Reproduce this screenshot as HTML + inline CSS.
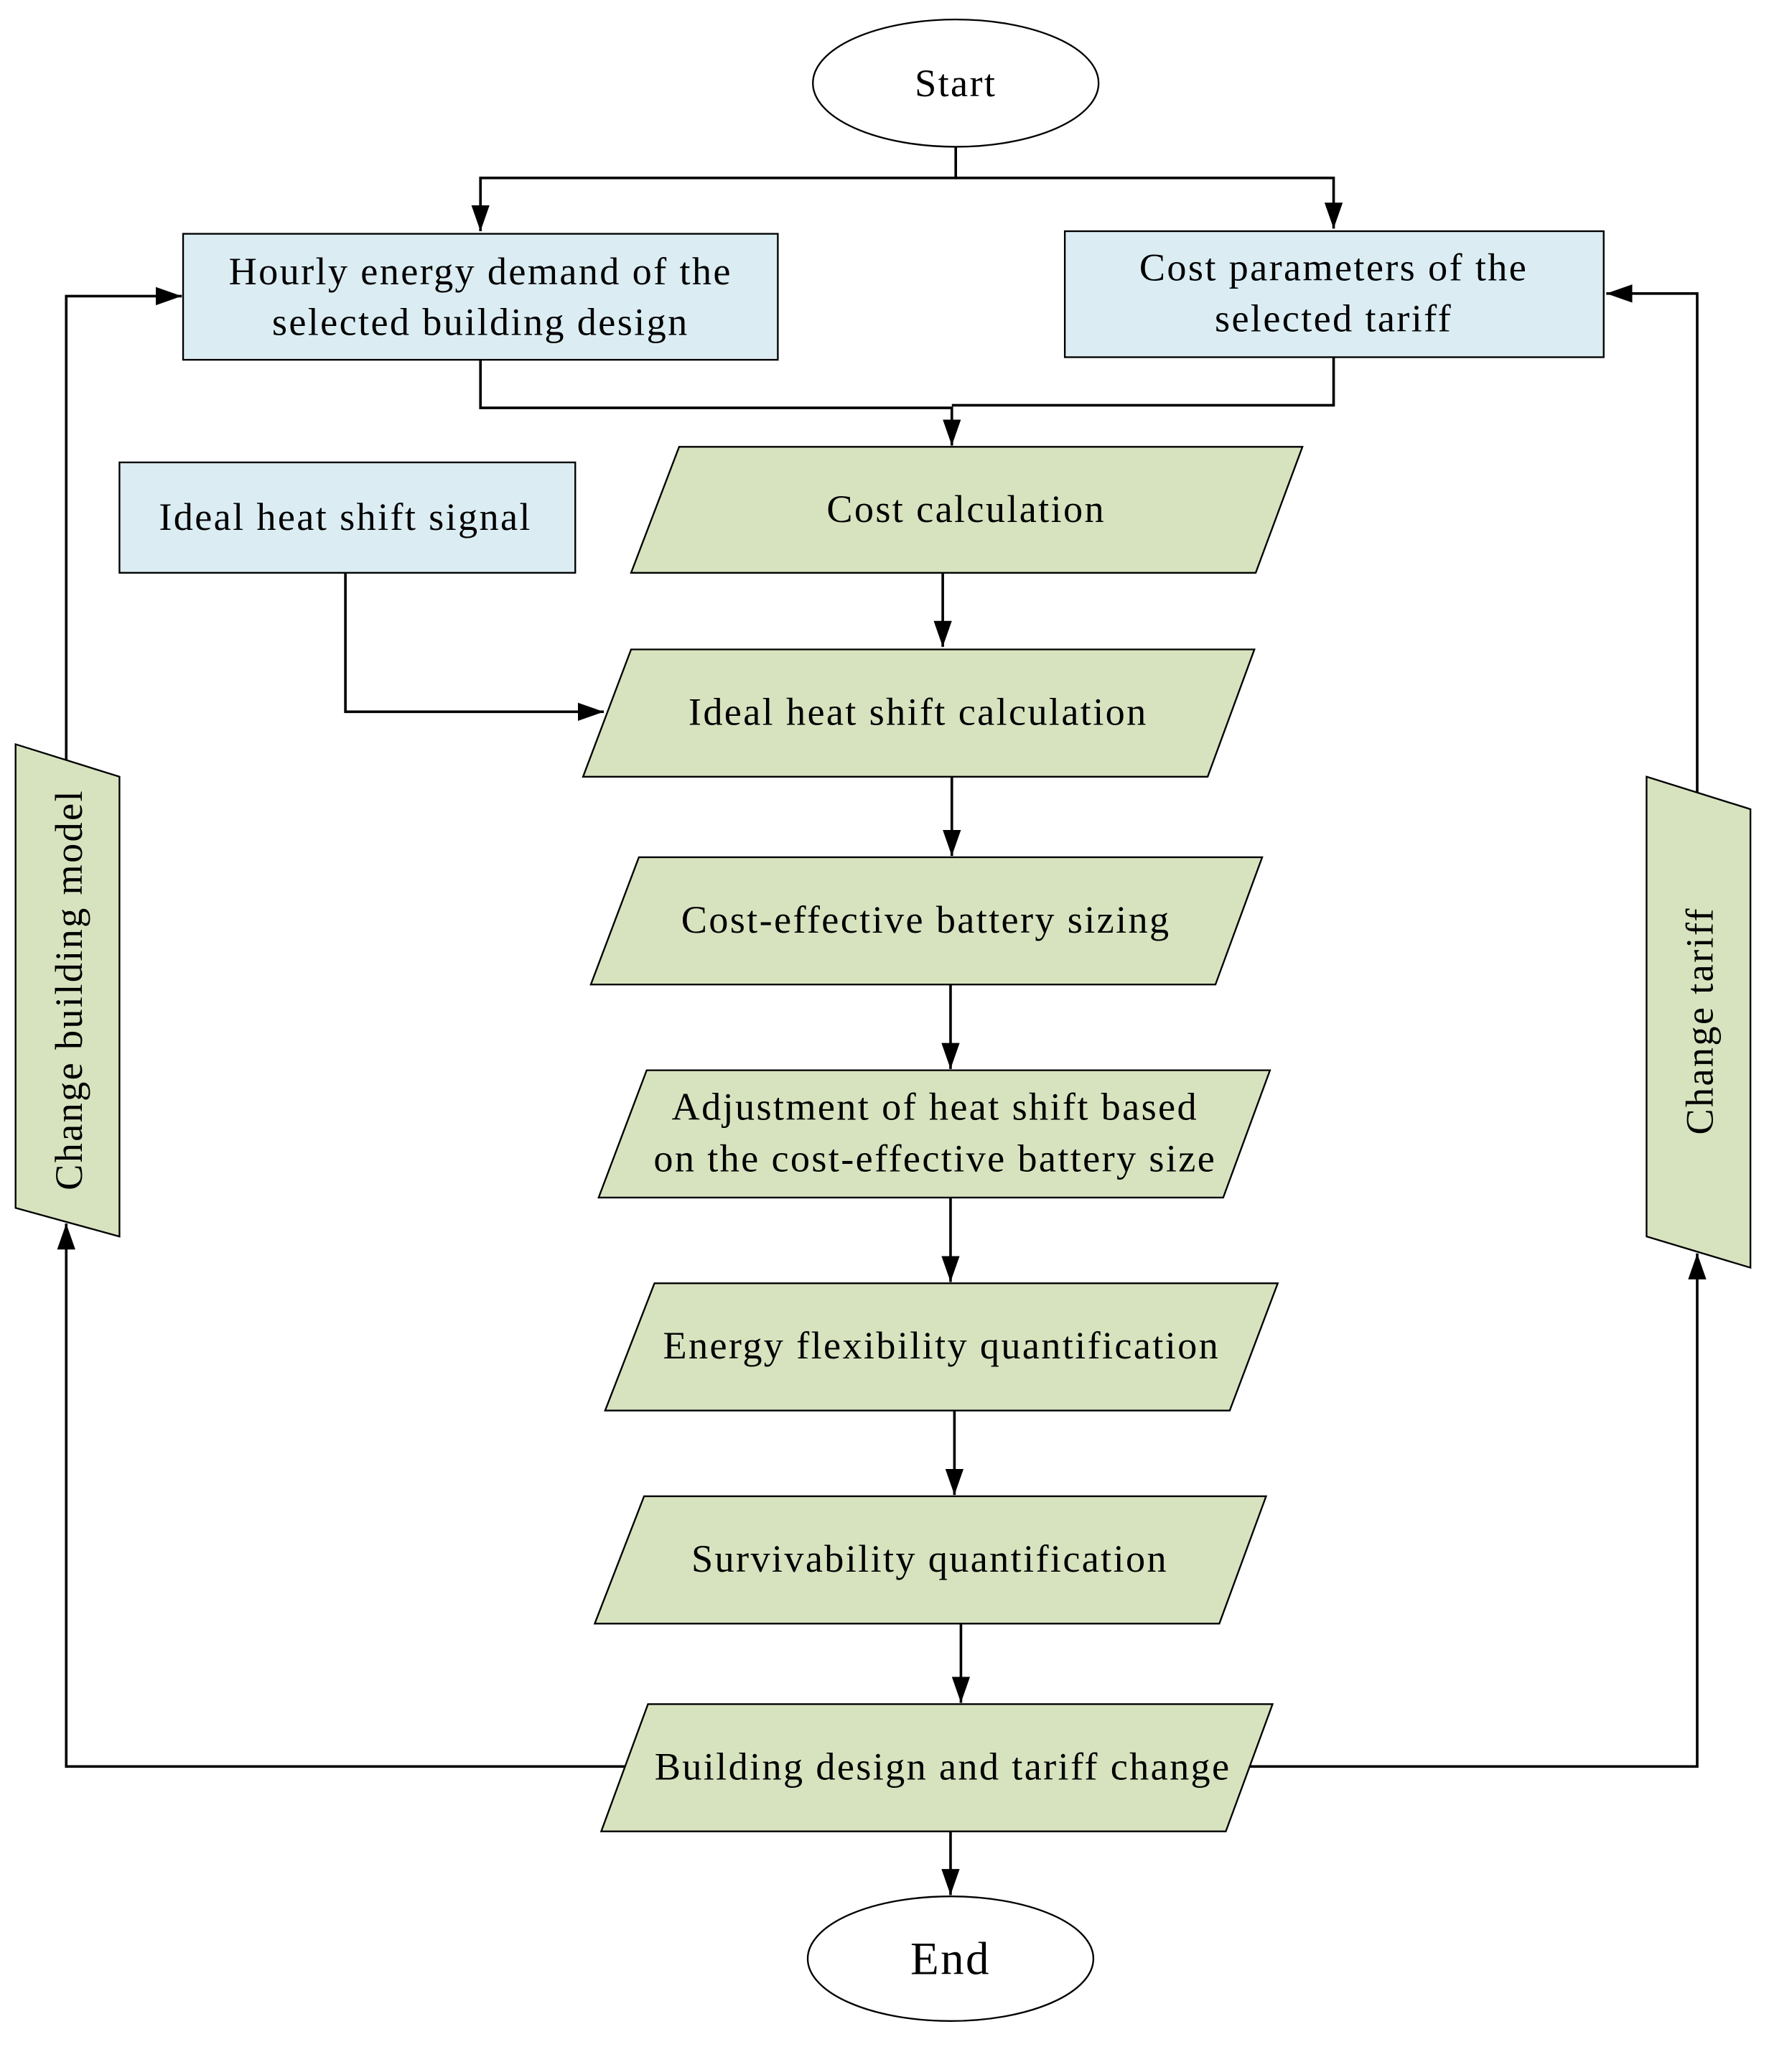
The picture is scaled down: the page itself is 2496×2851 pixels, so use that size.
<!DOCTYPE html>
<html><head><meta charset="utf-8"><style>html,body{margin:0;padding:0;background:#fff}svg{display:block}</style></head>
<body>
<svg width="2496" height="2851" viewBox="0 0 1380 1576" preserveAspectRatio="none" xmlns="http://www.w3.org/2000/svg" font-family="Liberation Serif, serif" font-size="30" letter-spacing="1.3" fill="#000">
<defs>
<marker id="b" viewBox="0 0 20 20" refX="20" refY="10" markerWidth="20" markerHeight="20" markerUnits="userSpaceOnUse" orient="auto"><path d="M0,3 L20,10 L0,17 z" fill="#000"/></marker></defs>
<g stroke="#000" stroke-width="1.3">
<ellipse cx="736" cy="64" rx="110" ry="49" fill="#fff"/>
<ellipse cx="732" cy="1508" rx="110" ry="48" fill="#fff"/>
<rect x="141" y="180" width="458" height="97" fill="#dbedf3"/>
<rect x="820" y="178" width="415" height="97" fill="#dbedf3"/>
<rect x="92" y="356" width="351" height="85" fill="#dbedf3"/>
<polygon points="523,344 1003,344 967,441 486,441" fill="#d7e3bf"/>
<polygon points="486,500 966,500 930,598 449,598" fill="#d7e3bf"/>
<polygon points="492,660 972,660 936,758 455,758" fill="#d7e3bf"/>
<polygon points="498,824 978,824 942,922 461,922" fill="#d7e3bf"/>
<polygon points="504,988 984,988 947,1086 466,1086" fill="#d7e3bf"/>
<polygon points="496,1152 975,1152 939,1250 458,1250" fill="#d7e3bf"/>
<polygon points="499,1312 980,1312 944,1410 463,1410" fill="#d7e3bf"/>
<polygon points="12,573 92,598 92,952 12,930" fill="#d7e3bf"/>
<polygon points="1268,598 1348,623 1348,976 1268,952" fill="#d7e3bf"/>
</g>
<g stroke="#000" stroke-width="2" fill="none">
<polyline points="736,113 736,137 370,137 370,178" marker-end="url(#b)"/>
<polyline points="736,137 1027,137 1027,176" marker-end="url(#b)"/>
<polyline points="370,277 370,314 733,314 733,343" marker-end="url(#b)"/>
<polyline points="1027,275 1027,312 733,312"/>
<polyline points="266,441 266,548 465,548" marker-end="url(#b)"/>
<line x1="726" y1="441" x2="726" y2="498" marker-end="url(#b)"/>
<line x1="733" y1="598" x2="733" y2="659" marker-end="url(#b)"/>
<line x1="732" y1="758" x2="732" y2="823" marker-end="url(#b)"/>
<line x1="732" y1="922" x2="732" y2="987" marker-end="url(#b)"/>
<line x1="735" y1="1086" x2="735" y2="1151" marker-end="url(#b)"/>
<line x1="740" y1="1250" x2="740" y2="1311" marker-end="url(#b)"/>
<line x1="732" y1="1410" x2="732" y2="1459" marker-end="url(#b)"/>
<polyline points="481,1360 51,1360 51,942" marker-end="url(#b)"/>
<polyline points="51,585 51,228 140,228" marker-end="url(#b)"/>
<polyline points="962,1360 1307,1360 1307,965" marker-end="url(#b)"/>
<polyline points="1307,610 1307,226 1237,226" marker-end="url(#b)"/>
</g>
<g text-anchor="middle">
<text x="736" y="74">Start</text>
<text x="732" y="1520" font-size="36">End</text>
<text x="370" y="219">Hourly energy demand of the</text>
<text x="370" y="258">selected building design</text>
<text x="1027" y="216">Cost parameters of the</text>
<text x="1027" y="255">selected tariff</text>
<text x="266" y="408">Ideal heat shift signal</text>
<text x="744" y="402">Cost calculation</text>
<text x="707" y="558">Ideal heat shift calculation</text>
<text x="713" y="718">Cost-effective battery sizing</text>
<text x="720" y="862">Adjustment of heat shift based</text>
<text x="720" y="902">on the cost-effective battery size</text>
<text x="725" y="1046">Energy flexibility quantification</text>
<text x="716" y="1210">Survivability quantification</text>
<text x="726" y="1370">Building design and tariff change</text>
<text transform="translate(63,762) rotate(-90)">Change building model</text>
<text transform="translate(1319,786) rotate(-90)">Change tariff</text>
</g>
</svg>
</body></html>
